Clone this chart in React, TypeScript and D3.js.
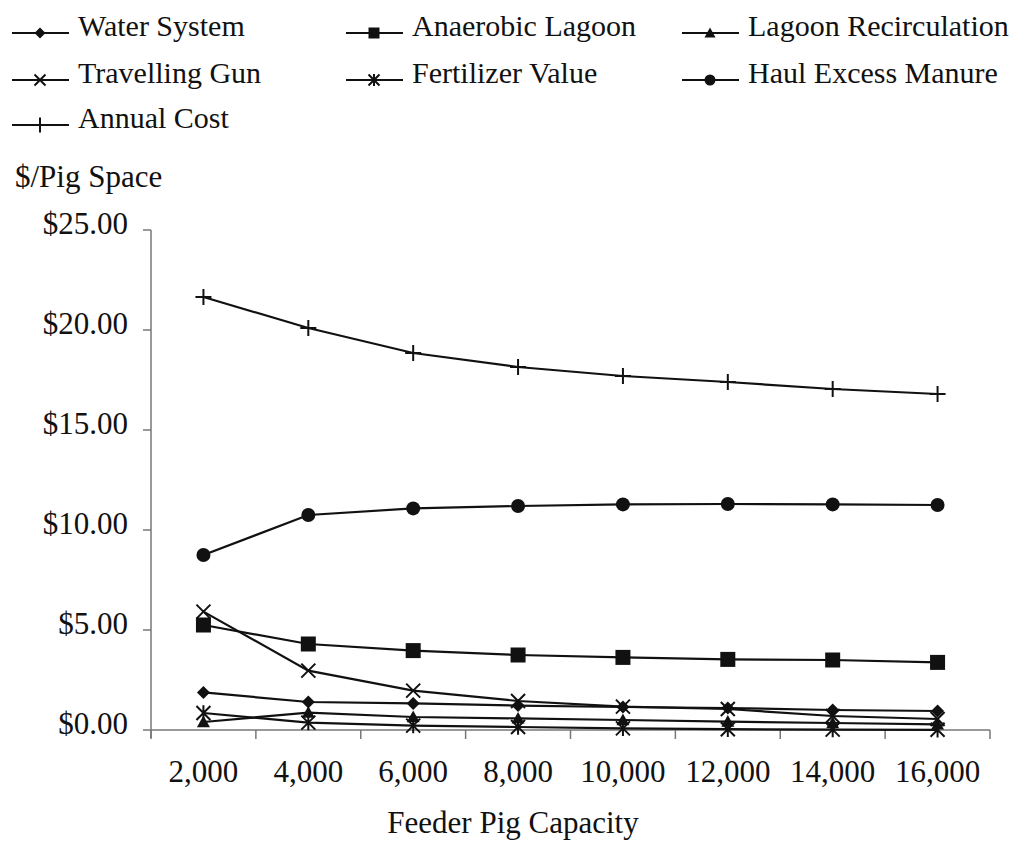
import React from "react";
import * as d3 from "d3";

const capacities = [2000, 4000, 6000, 8000, 10000, 12000, 14000, 16000];
const capacityLabels = ["2,000", "4,000", "6,000", "8,000", "10,000", "12,000", "14,000", "16,000"];
const yTicks = [0, 5, 10, 15, 20, 25];
const yTickLabels = ["$0.00", "$5.00", "$10.00", "$15.00", "$20.00", "$25.00"];

const waterSystem = [1.88, 1.4, 1.33, 1.22, 1.15, 1.1, 1.0, 0.95];
const anaerobicLagoon = [5.25, 4.3, 3.97, 3.75, 3.63, 3.53, 3.5, 3.38];
const lagoonRecirculation = [0.4, 0.87, 0.65, 0.58, 0.5, 0.42, 0.35, 0.28];
const travellingGun = [5.92, 2.97, 1.97, 1.45, 1.17, 1.05, 0.7, 0.55];
const fertilizerValue = [0.85, 0.37, 0.22, 0.15, 0.08, 0.04, 0.02, 0.01];
const haulExcessManure = [8.75, 10.75, 11.08, 11.2, 11.28, 11.3, 11.28, 11.25];
const annualCost = [21.65, 20.1, 18.85, 18.15, 17.7, 17.4, 17.05, 16.8];

type MarkerKind = "diamond" | "square" | "triangle" | "x" | "asterisk" | "circle" | "plus";

const seriesList: { name: string; values: number[]; marker: MarkerKind }[] = [
  { name: "Water System", values: waterSystem, marker: "diamond" },
  { name: "Anaerobic Lagoon", values: anaerobicLagoon, marker: "square" },
  { name: "Lagoon Recirculation", values: lagoonRecirculation, marker: "triangle" },
  { name: "Travelling Gun", values: travellingGun, marker: "x" },
  { name: "Fertilizer Value", values: fertilizerValue, marker: "asterisk" },
  { name: "Haul Excess Manure", values: haulExcessManure, marker: "circle" },
  { name: "Annual Cost", values: annualCost, marker: "plus" },
];

const FONT = "'Liberation Serif', 'Times New Roman', serif";

function Marker({ kind, x, y, s }: { kind: MarkerKind; x: number; y: number; s: number }) {
  const h = s / 2;
  switch (kind) {
    case "diamond":
      return <path d={`M${x},${y - h}L${x + h},${y}L${x},${y + h}L${x - h},${y}Z`} fill="#111" />;
    case "square":
      return <rect x={x - h} y={y - h} width={s} height={s} fill="#111" />;
    case "triangle":
      return <path d={`M${x},${y - h}L${x + h},${y + h * 0.8}L${x - h},${y + h * 0.8}Z`} fill="#111" />;
    case "x":
      return (
        <path d={`M${x - h},${y - h}L${x + h},${y + h}M${x + h},${y - h}L${x - h},${y + h}`} stroke="#111" strokeWidth={2} />
      );
    case "asterisk":
      return (
        <path
          d={`M${x - h},${y - h}L${x + h},${y + h}M${x + h},${y - h}L${x - h},${y + h}M${x},${y - h * 1.1}L${x},${y + h * 1.1}`}
          stroke="#111"
          strokeWidth={2}
        />
      );
    case "circle":
      return <circle cx={x} cy={y} r={h} fill="#111" />;
    case "plus":
      return <path d={`M${x - h},${y}L${x + h},${y}M${x},${y - h}L${x},${y + h}`} stroke="#111" strokeWidth={2} />;
  }
  return null;
}

const markerSize: Record<MarkerKind, number> = {
  diamond: 13,
  square: 15,
  triangle: 13,
  x: 14,
  asterisk: 14,
  circle: 14,
  plus: 16,
};

export default function App() {
  const width = 1015;
  const height = 847;
  const x = d3.scaleBand<number>().domain(capacities).range([151, 990]);
  const y = d3.scaleLinear().domain([0, 25]).range([730, 230]);
  const xc = (c: number) => (x(c) as number) + x.bandwidth() / 2;

  const line = d3
    .line<number>()
    .x((_, i) => xc(capacities[i]))
    .y((v) => y(v));

  const boundaries = d3.range(capacities.length + 1).map((i) => 151 + i * x.step());

  const legendCols = [12, 346, 682];
  const legendRows = [33, 80, 125];

  return (
    <svg
      width={width}
      height={height}
      style={{ position: "absolute", left: 0, top: 0, background: "#fff" }}
      fontFamily={FONT}
    >
      <rect width={width} height={height} fill="#fff" />
      {/* Legend */}
      {seriesList.map((s, i) => {
        const col = i % 3;
        const row = Math.floor(i / 3);
        const lx = legendCols[col];
        const ly = legendRows[row];
        return (
          <g key={s.name}>
            <line x1={lx} x2={lx + 57} y1={ly} y2={ly} stroke="#111" strokeWidth={2.2} />
            <Marker kind={s.marker} x={lx + 28} y={ly} s={s.marker === "plus" ? 15 : 11} />
            <text x={lx + 66} y={ly + 3} fontSize={30} fill="#111">
              {s.name}
            </text>
          </g>
        );
      })}

      {/* Y title */}
      <text x={15} y={187} fontSize={31} fill="#111">
        $/Pig Space
      </text>

      {/* Axes */}
      <line x1={151} x2={151} y1={230} y2={738} stroke="#777" strokeWidth={1.5} />
      <line x1={151} x2={990} y1={730} y2={730} stroke="#777" strokeWidth={1.5} />
      {yTicks.map((t, i) => (
        <g key={t}>
          <line x1={143} x2={151} y1={y(t)} y2={y(t)} stroke="#777" strokeWidth={1.5} />
          <text x={128} y={y(t) + 4} fontSize={31} textAnchor="end" fill="#111">
            {yTickLabels[i]}
          </text>
        </g>
      ))}
      {boundaries.map((b, i) => (
        <line key={i} x1={b} x2={b} y1={730} y2={739} stroke="#777" strokeWidth={1.5} />
      ))}
      {capacities.map((c, i) => (
        <text key={c} x={xc(c)} y={782} fontSize={31} textAnchor="middle" fill="#111">
          {capacityLabels[i]}
        </text>
      ))}
      <text x={513} y={833} fontSize={31} textAnchor="middle" fill="#111">
        Feeder Pig Capacity
      </text>

      {/* Series */}
      {seriesList.map((s) => (
        <g key={s.name}>
          <path d={line(s.values) || ""} fill="none" stroke="#111" strokeWidth={2.2} />
          {s.values.map((v, i) => (
            <Marker key={i} kind={s.marker} x={xc(capacities[i])} y={y(v)} s={markerSize[s.marker]} />
          ))}
        </g>
      ))}
    </svg>
  );
}
